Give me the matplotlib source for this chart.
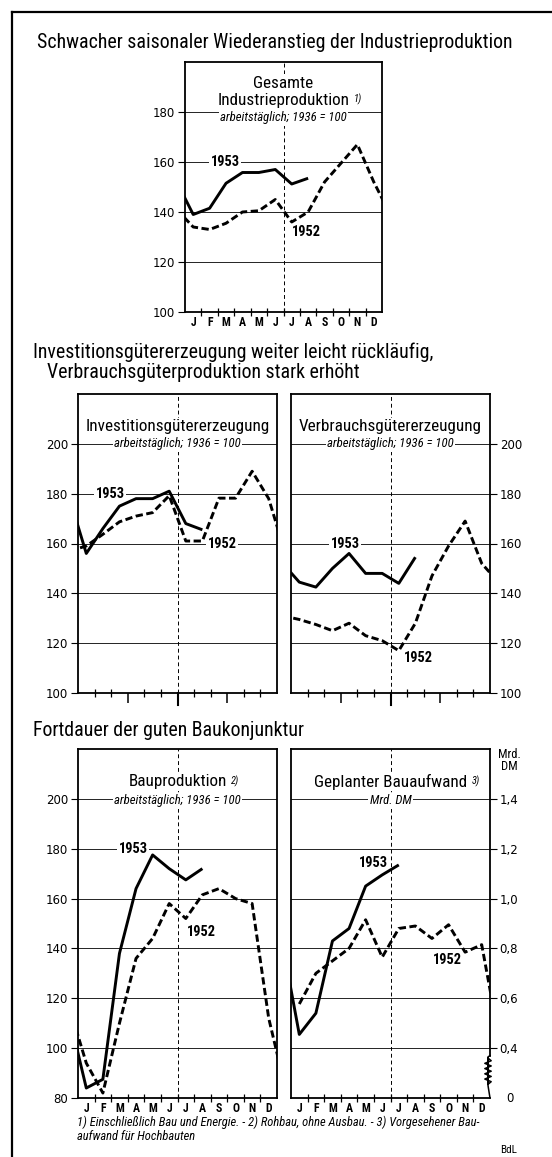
import numpy as np
import matplotlib
matplotlib.use("Agg")
import matplotlib.pyplot as plt
from matplotlib.lines import Line2D
from matplotlib.transforms import blended_transform_factory

# ---- data ----
months = ["J", "F", "M", "A", "M", "J", "J", "A", "S", "O", "N", "D"]

# Gesamte Industrieproduktion, arbeitstäglich, 1936 = 100
ind_dec51 = 141
ind_1952 = [134, 133, 135.5, 140, 140.5, 145, 136, 140, 152, 159.5, 167, 152]
ind_1953 = [139, 141.5, 151.5, 155.8, 155.8, 157, 151.2, 153.5]

# Investitionsgütererzeugung
inv_dec51 = 157
inv_1952 = [159, 163.7, 168.7, 171, 172.4, 179.2, 161, 161, 178.2, 178.2, 189, 178]
inv_1953 = [156, 166, 175, 178, 178, 181, 168, 165.5]

# Verbrauchsgütererzeugung
vb_dec51 = 131
vb_1952 = [129.5, 127.5, 125, 128, 123, 121, 117, 128, 147, 159, 169, 152]
vb_1953 = [144.5, 142.5, 150, 156, 148, 148, 144, 154.5]

# Bauproduktion
bau_dec51 = 116
bau_1952 = [94, 82, 110, 136, 144, 158, 152, 161.5, 164, 160, 158, 112]
bau_1953 = [84, 87.5, 138, 164, 177.5, 172, 167.5, 172]

# Geplanter Bauaufwand, Mrd. DM
auf_dec51 = np.nan
auf_1952 = [0.577, 0.70, 0.75, 0.80, 0.915, 0.765, 0.88, 0.89, 0.84, 0.895, 0.785, 0.815]
auf_1953 = [0.455, 0.54, 0.83, 0.88, 1.05, 1.095, 1.135]

W, H = 552, 1157
NARROW = ["Roboto Condensed", "DejaVu Sans Condensed", "Liberation Sans Narrow", "Roboto", "DejaVu Sans"]

fig = plt.figure(figsize=(W / 100, H / 100), dpi=100)
fig.patch.set_facecolor("white")


def fx(px):
    return px / W


def fy(py):
    return 1 - py / H


def add_panel(left, top, right, bottom):
    return fig.add_axes([fx(left), fy(bottom), (right - left) / W, (bottom - top) / H])


def style_panel(ax, ylim, yticks, ylabels, side="left", month_labels=True, quarters=False):
    ax.set_xlim(0, 12)
    ax.set_ylim(*ylim)
    for s in ax.spines.values():
        s.set_linewidth(1.3)
    ax.set_yticks(yticks)
    ax.set_yticklabels(ylabels)
    if side == "right":
        ax.yaxis.tick_right()
    ax.tick_params(axis="y", direction="out", length=5, width=0.8, labelsize=8.5, pad=2)
    ax.grid(axis="y", color="black", lw=0.6, zorder=1)
    ax.axvline(6, color="black", lw=0.7, ls=(0, (4, 3)), zorder=2)

    if quarters:
        ax.set_xticks([3, 6, 9])
        ax.set_xticks([1, 2, 4, 5, 7, 8, 10, 11], minor=True)
        ax.tick_params(axis="x", which="major", direction="out", length=7, width=1.1)
        ax.tick_params(axis="x", which="minor", direction="inout", length=6, width=0.9)
        ax.set_xticklabels([])
        # half-year mark reaches further down
        ax.plot([6, 6], [0, -0.04], transform=ax.get_xaxis_transform(),
                color="black", lw=1.5, clip_on=False, zorder=6)
    else:
        ax.set_xticks(range(1, 12))
        ax.set_xticklabels([])
        ax.tick_params(axis="x", direction="inout", length=6, width=0.9)

    if month_labels:
        for i, m in enumerate(months):
            ax.annotate(m, (i + 0.5, 0), xycoords=ax.get_xaxis_transform(),
                        xytext=(0, -3), textcoords="offset points",
                        ha="center", va="top", fontsize=8.5, fontweight="bold", family=NARROW)


def plot_years(ax, dec51, y52, y53):
    line52 = [dec51] + list(y52) + [y53[0]]
    x52 = np.arange(len(line52)) - 0.5
    ax.plot(x52, line52, color="black", lw=2.1, ls=(0, (2.5, 1.2)), zorder=5)
    line53 = [y52[-1]] + list(y53)
    x53 = np.arange(len(line53)) - 0.5
    ax.plot(x53, line53, color="black", lw=2.1, solid_capstyle="butt", zorder=5)


def label(ax, x, y, s, size=10.4, **kw):
    return ax.text(x, y, s, ha="center", va="center", fontsize=size, family=NARROW,
                   bbox=dict(fc="white", ec="none", pad=1), zorder=4, **kw)


def note_mark(ax, txt, s):
    ax.annotate(s, xy=(1, 0.55), xycoords=txt, xytext=(3, 0), textcoords="offset points",
                ha="left", va="center", fontsize=7.5, style="italic", family=NARROW, zorder=4)


TITLE = 14.3
PTITLE = 12.3
SUB = 9.2

# ---- frame and headlines ----
fig.add_artist(Line2D([fx(12), fx(552)], [fy(12), fy(12)], color="black", lw=1.6))
fig.add_artist(Line2D([fx(12), fx(12)], [fy(12), fy(1157)], color="black", lw=1.6))

fig.text(fx(37), fy(42), "Schwacher saisonaler Wiederanstieg der Industrieproduktion",
         fontsize=TITLE, family=NARROW, va="center")
fig.text(fx(33), fy(352), "Investitionsgütererzeugung weiter leicht rückläufig,",
         fontsize=TITLE, family=NARROW, va="center")
fig.text(fx(47), fy(373), "Verbrauchsgüterproduktion stark erhöht",
         fontsize=TITLE, family=NARROW, va="center")
fig.text(fx(33), fy(730), "Fortdauer der guten Baukonjunktur",
         fontsize=TITLE, family=NARROW, va="center")

# ---- panel 1: Gesamte Industrieproduktion ----
ax1 = add_panel(185, 62, 382, 312)
style_panel(ax1, (100, 200), [100, 120, 140, 160, 180], ["100", "120", "140", "160", "180"])
plot_years(ax1, ind_dec51, ind_1952, ind_1953)
label(ax1, 6, 191.6, "Gesamte", size=PTITLE)
t = label(ax1, 6, 184.8, "Industrieproduktion", size=PTITLE)
note_mark(ax1, t, "1)")
label(ax1, 6, 177.6, "arbeitstäglich; 1936 = 100", size=SUB, style="italic")
label(ax1, 2.44, 160, "1953", fontweight="bold")
label(ax1, 7.37, 132, "1952", fontweight="bold")

# ---- panel 2: Investitions- und Verbrauchsgüter ----
ticks2 = [100, 120, 140, 160, 180, 200]
ax2 = add_panel(78, 394, 277, 693)
style_panel(ax2, (100, 220), ticks2, [str(v) for v in ticks2], month_labels=False, quarters=True)
plot_years(ax2, inv_dec51, inv_1952, inv_1953)
label(ax2, 6, 206.8, "Investitionsgütererzeugung", size=PTITLE)
label(ax2, 6, 200, "arbeitstäglich; 1936 = 100", size=SUB, style="italic")
label(ax2, 1.93, 180, "1953", fontweight="bold")
label(ax2, 8.68, 160, "1952", fontweight="bold")

ax3 = add_panel(291, 394, 490, 693)
style_panel(ax3, (100, 220), ticks2, [str(v) for v in ticks2], side="right",
            month_labels=False, quarters=True)
plot_years(ax3, vb_dec51, vb_1952, vb_1953)
label(ax3, 6, 206.8, "Verbrauchsgütererzeugung", size=PTITLE)
label(ax3, 6, 200, "arbeitstäglich; 1936 = 100", size=SUB, style="italic")
label(ax3, 3.26, 160, "1953", fontweight="bold")
label(ax3, 7.66, 114, "1952", fontweight="bold")

# ---- panel 3: Bau ----
ticks3 = [80, 100, 120, 140, 160, 180, 200]
ax4 = add_panel(78, 749, 277, 1098)
style_panel(ax4, (80, 220), ticks3, [str(v) for v in ticks3])
plot_years(ax4, bau_dec51, bau_1952, bau_1953)
t = label(ax4, 6, 206.8, "Bauproduktion", size=PTITLE)
note_mark(ax4, t, "2)")
label(ax4, 6, 199.2, "arbeitstäglich; 1936 = 100", size=SUB, style="italic")
label(ax4, 3.32, 180, "1953", fontweight="bold")
label(ax4, 7.42, 146.4, "1952", fontweight="bold")

ticks_mrd = [0.4, 0.6, 0.8, 1.0, 1.2, 1.4]
ax5 = add_panel(291, 749, 490, 1098)
style_panel(ax5, (0.2, 1.6), ticks_mrd, [f"{v:.1f}".replace(".", ",") for v in ticks_mrd],
            side="right")
plot_years(ax5, auf_dec51, auf_1952, auf_1953)
t = label(ax5, 6, 1.468, "Geplanter Bauaufwand", size=PTITLE)
note_mark(ax5, t, "3)")
label(ax5, 6, 1.392, "Mrd. DM", size=SUB, style="italic")
label(ax5, 4.95, 1.144, "1953", fontweight="bold")
label(ax5, 9.41, 0.752, "1952", fontweight="bold")
ax5.annotate("0", (1, 0.2), xycoords=blended_transform_factory(ax5.transAxes, ax5.transData),
             xytext=(14, 0), textcoords="offset points", ha="center", va="center", fontsize=8.5)
ax5.annotate("Mrd.\nDM", (1, 1), xycoords="axes fraction", xytext=(14, -8),
             textcoords="offset points", ha="center", va="center", fontsize=9,
             linespacing=0.9, family=NARROW)

# broken scale on the right axis
ax5.spines["right"].set_bounds(0.37, 1.6)
tr = blended_transform_factory(ax5.transAxes, ax5.transData)
zz_y = np.linspace(0.255, 0.36, 11)
zz_x = 0.99 + 0.016 * np.array([0, 1, -1, 1, -1, 1, -1, 1, -1, 1, 0])
ax5.plot(np.r_[1, 0.99, zz_x, 0.99, 1], np.r_[0.2, 0.25, zz_y[::-1], 0.365, 0.37][::-1],
         transform=tr, color="black", lw=1.1, clip_on=False, zorder=6)

# ---- footnotes ----
fig.text(fx(77), fy(1122),
         "1) Einschließlich Bau und Energie. - 2) Rohbau, ohne Ausbau. - 3) Vorgesehener Bau-",
         fontsize=9, style="italic", family=NARROW, va="center")
fig.text(fx(77), fy(1137), "aufwand für Hochbauten",
         fontsize=9, style="italic", family=NARROW, va="center")
fig.text(fx(500), fy(1150), "BdL", fontsize=8, va="center", family=NARROW)

fig.savefig("out.png", dpi=100)
